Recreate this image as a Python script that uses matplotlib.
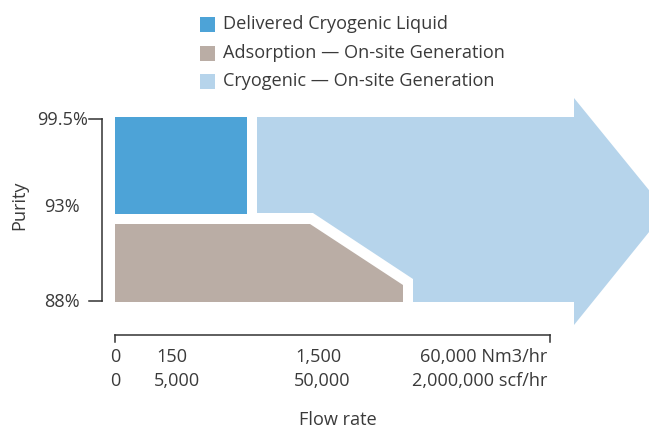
import matplotlib
matplotlib.use("Agg")
import matplotlib.pyplot as plt
from matplotlib.patches import Polygon, Rectangle

plt.rcParams['font.family'] = ['Open Sans', 'DejaVu Sans']

# ---- data (schematic diagram, coordinates in diagram units) ----
series_names = ["Delivered Cryogenic Liquid",
                "Adsorption \u2014 On-site Generation",
                "Cryogenic \u2014 On-site Generation"]
series_colors = ["#4DA3D7", "#BAADA5", "#B6D4EB"]

delivered_x = [115, 247, 247, 115]
delivered_y = [117, 117, 214, 214]

adsorption_x = [115, 310, 403, 403, 115]
adsorption_y = [224, 224, 285, 302, 302]

cryogenic_x = [257, 574, 574, 666, 574, 574, 413, 413, 313, 257]
cryogenic_y = [117, 117, 98, 211, 325, 302, 302, 279, 213, 213]

purity_labels = ["99.5%", "93%", "88%"]
flow_nm3_labels = ["0", "150", "1,500", "60,000 Nm3/hr"]
flow_scf_labels = ["0", "5,000", "50,000", "2,000,000 scf/hr"]

# ---- layout ----
W, H = 649, 430
fig = plt.figure(figsize=(W / 100, H / 100), dpi=100)
ax = fig.add_axes([0, 0, 1, 1])
ax.set_xlim(0, W)
ax.set_ylim(H, 0)
ax.axis("off")

text_color = "#3a3a3a"
fs = 13.1

for xs, ys, c in [(cryogenic_x, cryogenic_y, series_colors[2]),
                  (adsorption_x, adsorption_y, series_colors[1]),
                  (delivered_x, delivered_y, series_colors[0])]:
    ax.add_patch(Polygon(list(zip(xs, ys)), closed=True, facecolor=c,
                         edgecolor="none"))

# legend
leg_y = [24, 53, 81]
for name, c, y in zip(series_names, series_colors, leg_y):
    ax.add_patch(Rectangle((200, y - 7.5), 15, 15, facecolor=c, edgecolor="none"))
    ax.text(223, y, name, fontsize=fs, color=text_color, va="center", ha="left")

# y axis bracket
lc = "#333333"
ax.plot([102, 102], [119, 301], color=lc, lw=1.1)
ax.plot([89, 102], [119, 119], color=lc, lw=1.1)
ax.plot([89, 102], [301, 301], color=lc, lw=1.1)
purity_pos = [(88, 120), (80, 207), (80, 302)]
for lab, (x, y) in zip(purity_labels, purity_pos):
    ax.text(x, y, lab, fontsize=fs, color=text_color, ha="right", va="center")
ax.text(19, 205, "Purity", fontsize=fs, color=text_color, rotation=90,
        ha="center", va="center")

# x axis bracket
ax.plot([115, 550], [335, 335], color=lc, lw=1.1)
ax.plot([115, 115], [335, 342], color=lc, lw=1.1)
ax.plot([550, 550], [335, 342], color=lc, lw=1.1)

xpos = [(115, "center"), (172, "center"), (318, "center"), (547, "right")]
for lab, (x, ha) in zip(flow_nm3_labels, xpos):
    ax.text(x, 357, lab, fontsize=fs, color=text_color, ha=ha, va="center")
xpos2 = [(115, "center"), (177, "center"), (322, "center"), (547, "right")]
for lab, (x, ha) in zip(flow_scf_labels, xpos2):
    ax.text(x, 381, lab, fontsize=fs, color=text_color, ha=ha, va="center")
ax.text(338, 420, "Flow rate", fontsize=fs, color=text_color, ha="center",
        va="center")

fig.savefig("out.png", dpi=100)
